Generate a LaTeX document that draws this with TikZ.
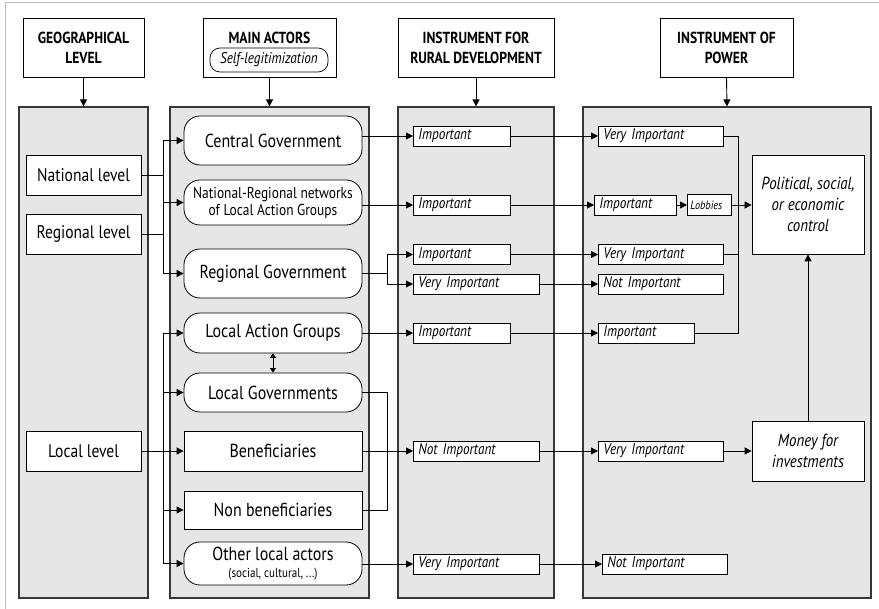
\documentclass[tikz,border=0pt]{standalone}
\usepackage{fontspec}
\setmainfont{PT Sans}[FakeStretch=0.85]
\usetikzlibrary{arrows.meta, positioning, calc}
\definecolor{colgray}{RGB}{230,230,230}
\definecolor{coledge}{RGB}{55,55,55}
\definecolor{framegray}{RGB}{190,190,190}

\tikzset{
  hdr/.style={draw, fill=white, line width=0.8pt, minimum height=59pt, align=center,
              font=\fontsize{16}{20}\selectfont\bfseries},
  column/.style={draw=coledge, fill=colgray, line width=1.2pt, minimum height=491pt},
  level/.style={draw, fill=white, line width=0.8pt, minimum width=115pt, minimum height=40pt,
                font=\fontsize{18.3}{20}\selectfont},
  actor/.style={draw, fill=white, line width=0.8pt, rounded corners=16pt, minimum width=178pt,
                align=center, font=\fontsize{18.8}{20}\selectfont},
  group/.style={draw, fill=white, line width=0.8pt, minimum width=178pt,
                font=\fontsize{18.8}{20}\selectfont},
  rate/.style={draw, fill=white, line width=0.8pt, anchor=west, minimum height=20pt,
               inner xsep=5pt, inner ysep=0pt, text width=#1pt, align=left,
               font=\fontsize{15.5}{16}\selectfont\itshape},
  goal/.style={draw, fill=white, line width=0.8pt, minimum width=112pt, align=center,
               font=\fontsize{17.5}{21}\selectfont\itshape},
  link/.style={line width=0.9pt},
  >={Triangle[length=7pt,width=7pt]}
}

\begin{document}
\begin{tikzpicture}[x=1pt, y=-1pt]
\useasboundingbox (0,0) rectangle (879,609);
\draw[framegray, line width=1pt] (5,609) -- (5,3) -- (879,3);

% headers
\node[hdr, minimum width=121pt] (hgeo) at (83.5,47.5) {GEOGRAPHICAL\\LEVEL};
\node[hdr, minimum width=133pt] (hact) at (269.5,47.5) {};
\node[font=\fontsize{16}{20}\selectfont\bfseries] (hacttext) at (269.5,38) {MAIN ACTORS};
\node[draw, fill=white, line width=0.7pt, rounded corners=10pt, minimum width=118pt, minimum height=24pt,
      inner sep=1pt, font=\fontsize{15.5}{16}\selectfont\itshape] (legit) at (269,60) {Self-legitimization};
\node[hdr, minimum width=156pt] (hrur) at (476,47.5) {INSTRUMENT FOR\\RURAL DEVELOPMENT};
\node[hdr, minimum width=133pt] (hpow) at (726.5,47.5) {INSTRUMENT OF\\POWER};

% columns
\node[column, minimum width=129pt] (cgeo) at (83.5,352.5) {};
\node[column, minimum width=199pt] (cact) at (269.5,352.5) {};
\node[column, minimum width=156pt] (crur) at (476,352.5) {};
\node[column, minimum width=288pt] (cpow) at (727,352.5) {};

\foreach \h/\c in {hgeo/cgeo, hact/cact, hrur/crur, hpow/cpow}
  \draw[link, ->] (\h.south) -- (\c.north);

% geographical level
\node[level] (nat) at (83.5,175) {National level};
\node[level] (reg) at (83.5,234) {Regional level};
\node[level] (loc) at (83.5,451) {Local level};

% main actors
\node[actor, minimum height=49pt] (cg) at (273,140.5) {Central Government};
\node[actor, minimum height=45pt, inner sep=1pt, font=\fontsize{15.8}{17}\selectfont] (nrn) at (273,202.5)
  {National-Regional networks\\of Local Action Groups};
\node[actor, minimum height=49pt] (rg) at (273,273.5) {Regional Government};
\node[actor, minimum height=40pt] (lag) at (273,333) {Local Action Groups};
\node[actor, minimum height=39pt] (lgov) at (273,392.5) {Local Governments};
\node[group, minimum height=40pt] (ben) at (273,451) {Beneficiaries};
\node[group, minimum height=38pt] (nben) at (273,510) {Non beneficiaries};
\node[actor, minimum height=43pt, inner sep=1pt] (oth) at (273,563.5)
  {Other local actors\\[-3pt]{\fontsize{13}{14}\selectfont(social, cultural, ...)}};

\coordinate (busA) at (163,0);
\draw[link] (nat.east) -- (nat.east -| busA);
\draw[link] (reg.east) -- (reg.east -| busA);
\draw[link] (cg.west -| busA) -- (rg.west -| busA);
\draw[link] (loc.east) -- (loc.east -| busA);
\draw[link] (lag.west -| busA) -- (oth.west -| busA);
\foreach \n in {cg, nrn, rg, lag, lgov, ben, nben, oth}
  \draw[link, ->] (\n.west -| busA) -- (\n.west);
\draw[link, <->, >={Triangle[length=4.5pt,width=6pt]}] (lag.south) -- (lgov.north);

% instrument for rural development
\node[rate=87] (r1) at (413,136) {Important};
\node[rate=87] (r2) at (413,205) {Important};
\node[rate=87] (r3) at (413,254.5) {Important};
\node[rate=116] (r4) at (413,284) {Very Important};
\node[rate=87] (r5) at (413,333) {Important};
\node[rate=116] (r6) at (413,451) {Not Important};
\node[rate=116] (r7) at (413,564) {Very Important};

\coordinate (busR) at (387,0);
\draw[link, ->] (cg.east |- r1.west) -- (r1.west);
\draw[link, ->] (nrn.east |- r2.west) -- (r2.west);
\draw[link] (rg.east) -- (rg.east -| busR);
\draw[link] (r3.west -| busR) -- (r4.west -| busR);
\draw[link, ->] (r3.west -| busR) -- (r3.west);
\draw[link, ->] (r4.west -| busR) -- (r4.west);
\draw[link, ->] (lag.east) -- (r5.west);
\draw[link] (lgov.east) -| (nben.east -| busR) -- (nben.east);
\draw[link, ->] (ben.east) -- (r6.west);
\draw[link, ->] (oth.east |- r7.west) -- (r7.west);

% instrument of power
\node[rate=115] (p1) at (598,136) {Very Important};
\node[rate=72] (p2) at (594,205) {Important};
\node[rate=34, inner xsep=3pt, text width=38pt, minimum height=21pt,
      font=\fontsize{12}{13}\selectfont\itshape] (lob) at (687,205) {Lobbies};
\node[rate=115] (p3) at (598,254.5) {Very Important};
\node[rate=115] (p4) at (598,284) {Not Important};
\node[rate=86] (p5) at (598,333) {Important};
\node[rate=115] (p6) at (598,451) {Very Important};
\node[rate=115] (p7) at (602,564) {Not Important};
\node[goal, minimum height=99pt] (pol) at (808,204.5) {Political, social,\\or economic\\control};
\node[goal, minimum height=60pt] (mon) at (808,451) {Money for\\investments};

\foreach \a/\b in {r1/p1, r2/p2, r3/p3, r4/p4, r5/p5, r6/p6, r7/p7}
  \draw[link, ->] (\a.east) -- (\b.west);

\coordinate (busP) at (738,0);
\draw[link] (p1.east) -| (p5.east -| busP) -- (p5.east);
\draw[link] (p3.east) -- (p3.east -| busP);
\draw[link, ->] (p2.east) -- (lob.west);
\draw[link, ->] (lob.east) -- (pol.west |- lob.east);
\draw[link, ->] (p6.east) -- (mon.west);
\draw[link, ->] (mon.north) -- (pol.south);
\end{tikzpicture}
\end{document}
